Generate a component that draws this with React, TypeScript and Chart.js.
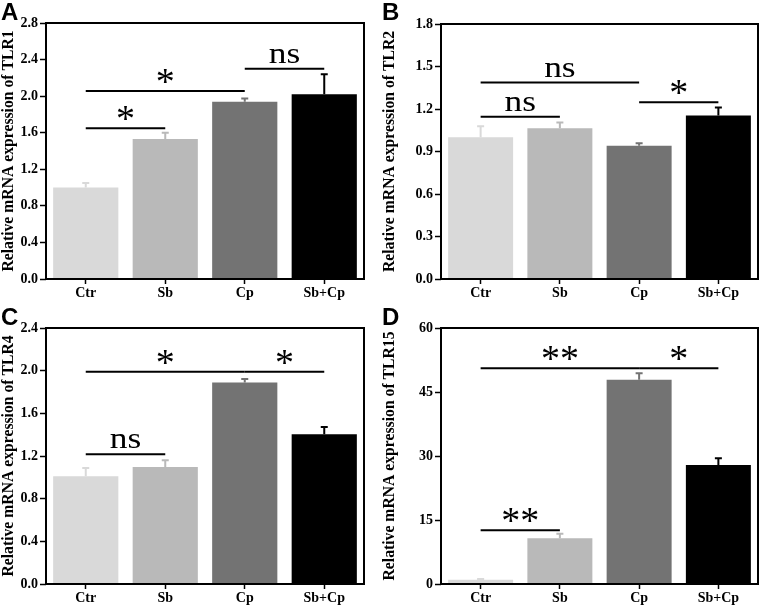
import React, { useEffect, useRef } from 'react';
import { Chart, registerables } from 'chart.js';

Chart.register(...registerables);

// ---------- data ----------
const categories = ['Ctr', 'Sb', 'Cp', 'Sb+Cp'];
const barColors = ['#d9d9d9', '#b9b9b9', '#737373', '#000000'];

const tlr1Values = [1.0, 1.53, 1.94, 2.02];
const tlr1Errors = [0.05, 0.07, 0.035, 0.22];
const tlr1Ticks = [0, 0.4, 0.8, 1.2, 1.6, 2.0, 2.4, 2.8];
const tlr1Brackets = [
  { from: 0, to: 1, y: 1.65, label: '*' },
  { from: 0, to: 2, y: 2.055, label: '*' },
  { from: 2, to: 3, y: 2.3, label: 'ns' },
];

const tlr2Values = [1.0, 1.064, 0.94, 1.155];
const tlr2Errors = [0.078, 0.04, 0.018, 0.056];
const tlr2Ticks = [0, 0.3, 0.6, 0.9, 1.2, 1.5, 1.8];
const tlr2Brackets = [
  { from: 0, to: 1, y: 1.146, label: 'ns' },
  { from: 0, to: 2, y: 1.387, label: 'ns' },
  { from: 2, to: 3, y: 1.247, label: '*' },
];

const tlr4Values = [1.01, 1.097, 1.89, 1.403];
const tlr4Errors = [0.077, 0.063, 0.032, 0.069];
const tlr4Ticks = [0, 0.4, 0.8, 1.2, 1.6, 2.0, 2.4];
const tlr4Brackets = [
  { from: 0, to: 1, y: 1.216, label: 'ns' },
  { from: 0, to: 2, y: 1.99, label: '*' },
  { from: 2, to: 3, y: 1.99, label: '*' },
];

const tlr15Values = [1.0, 10.7, 47.9, 27.9];
const tlr15Errors = [0.15, 1.1, 1.5, 1.6];
const tlr15Ticks = [0, 15, 30, 45, 60];
const tlr15Brackets = [
  { from: 0, to: 1, y: 12.6, label: '**' },
  { from: 0, to: 2, y: 50.55, label: '**' },
  { from: 2, to: 3, y: 50.55, label: '*' },
];

const SERIF = "'Times New Roman', 'Liberation Serif', serif";
const SANS = "Arial, 'Liberation Sans', sans-serif";

type Bracket = { from: number; to: number; y: number; label: string };

type PanelDef = {
  letter: string;
  gene: string;
  values: number[];
  errors: number[];
  ticks: number[];
  decimals: number;
  brackets: Bracket[];
  left: number;
  top: number;
  width: number;
  height: number;
  plotLeft: number;
  plotRight: number;
  plotTop: number;
  plotBottom: number;
};

const panels: PanelDef[] = [
  { letter: 'A', gene: 'TLR1', values: tlr1Values, errors: tlr1Errors, ticks: tlr1Ticks, decimals: 1, brackets: tlr1Brackets,
    left: 0, top: 0, width: 381, height: 305, plotLeft: 46, plotRight: 364, plotTop: 23, plotBottom: 279 },
  { letter: 'B', gene: 'TLR2', values: tlr2Values, errors: tlr2Errors, ticks: tlr2Ticks, decimals: 1, brackets: tlr2Brackets,
    left: 381, top: 0, width: 381, height: 305, plotLeft: 60, plotRight: 377, plotTop: 24, plotBottom: 279 },
  { letter: 'C', gene: 'TLR4', values: tlr4Values, errors: tlr4Errors, ticks: tlr4Ticks, decimals: 1, brackets: tlr4Brackets,
    left: 0, top: 305, width: 381, height: 304, plotLeft: 46, plotRight: 364, plotTop: 23, plotBottom: 279 },
  { letter: 'D', gene: 'TLR15', values: tlr15Values, errors: tlr15Errors, ticks: tlr15Ticks, decimals: 0, brackets: tlr15Brackets,
    left: 381, top: 305, width: 381, height: 304, plotLeft: 60, plotRight: 377, plotTop: 23, plotBottom: 279 },
];

function makeChart(canvas: HTMLCanvasElement, p: PanelDef) {
  const annotPlugin = {
    id: 'annot' + p.letter,
    afterDatasetsDraw(chart: any) {
      const ctx = chart.ctx as CanvasRenderingContext2D;
      const xs = chart.scales.x;
      const ys = chart.scales.y;
      const meta = chart.getDatasetMeta(0);
      ctx.save();
      // error bars
      meta.data.forEach((bar: any, i: number) => {
        const x = bar.x;
        const yTop = ys.getPixelForValue(p.values[i] + p.errors[i]);
        const yBar = ys.getPixelForValue(p.values[i]);
        ctx.strokeStyle = barColors[i];
        ctx.lineWidth = 2;
        ctx.beginPath();
        ctx.moveTo(x, yBar);
        ctx.lineTo(x, yTop);
        ctx.moveTo(x - 3.5, yTop);
        ctx.lineTo(x + 3.5, yTop);
        ctx.stroke();
      });
      // frame
      const a = chart.chartArea;
      ctx.strokeStyle = '#000';
      ctx.lineWidth = 2;
      ctx.strokeRect(a.left, a.top, a.right - a.left, a.bottom - a.top);
      // significance brackets
      p.brackets.forEach((b) => {
        const x1 = xs.getPixelForValue(b.from);
        const x2 = xs.getPixelForValue(b.to);
        const y = ys.getPixelForValue(b.y);
        ctx.strokeStyle = '#000';
        ctx.lineWidth = 2;
        ctx.beginPath();
        ctx.moveTo(x1, y);
        ctx.lineTo(x2, y);
        ctx.stroke();
        const isNs = b.label === 'ns';
        ctx.font = isNs ? `30px ${SERIF}` : `38px ${SERIF}`;
        ctx.fillStyle = '#000';
        ctx.textAlign = 'center';
        ctx.textBaseline = 'alphabetic';
        const m = ctx.measureText(b.label);
        const gap = isNs ? 6 : 7;
        const baseline = y - gap - m.actualBoundingBoxDescent;
        const cx = (x1 + x2) / 2;
        ctx.save();
        ctx.translate(cx, baseline);
        if (isNs) ctx.scale(1.18, 1);
        ctx.fillText(b.label, 0, 0);
        ctx.restore();
      });
      // panel letter
      ctx.font = `bold 24px ${SANS}`;
      ctx.fillStyle = '#000';
      ctx.textAlign = 'left';
      ctx.textBaseline = 'alphabetic';
      ctx.fillText(p.letter, 1, 20);
      ctx.restore();
    },
  };

  return new Chart(canvas, {
    type: 'bar',
    data: {
      labels: categories,
      datasets: [
        {
          data: p.values,
          backgroundColor: barColors,
          borderWidth: 0,
          barPercentage: 0.82,
          categoryPercentage: 1.0,
        },
      ],
    },
    options: {
      responsive: false,
      animation: false,
      devicePixelRatio: 1,
      layout: {
        padding: {
          left: 0,
          top: p.plotTop,
          right: p.width - p.plotRight,
          bottom: 0,
        },
      },
      plugins: {
        legend: { display: false },
        tooltip: { enabled: false },
        title: { display: false },
      },
      scales: {
        x: {
          offset: true,
          grid: {
            offset: false,
            drawOnChartArea: false,
            drawTicks: true,
            tickLength: 5,
            tickColor: '#000',
            tickWidth: 1.5,
            color: '#000',
          },
          border: { display: false },
          ticks: {
            color: '#000',
            padding: 1,
            font: { family: SERIF, size: 14, weight: 'bold' },
          },
          afterFit(scale: any) {
            scale.height = p.height - p.plotBottom;
          },
        },
        y: {
          min: p.ticks[0],
          max: p.ticks[p.ticks.length - 1],
          afterBuildTicks(scale: any) {
            scale.ticks = p.ticks.map((v) => ({ value: v }));
          },
          grid: {
            drawOnChartArea: false,
            drawTicks: true,
            tickLength: 6,
            tickColor: '#000',
            tickWidth: 1.5,
            color: '#000',
          },
          border: { display: false },
          ticks: {
            color: '#000',
            padding: 2,
            font: { family: SERIF, size: 14, weight: 'bold' },
            callback: (v: any) => Number(v).toFixed(p.decimals),
          },
          title: {
            display: true,
            text: 'Relative mRNA expression of ' + p.gene,
            color: '#000',
            padding: { top: 0, bottom: 0 },
            font: { family: SERIF, size: 15.7, weight: 'bold' },
          },
          afterFit(scale: any) {
            scale.width = p.plotLeft;
          },
        },
      },
    },
    plugins: [annotPlugin],
  } as any);
}

function Panel({ p }: { p: PanelDef }) {
  const ref = useRef<HTMLCanvasElement | null>(null);
  useEffect(() => {
    if (!ref.current) return;
    const chart = makeChart(ref.current, p);
    return () => chart.destroy();
  }, [p]);
  return (
    <canvas
      ref={ref}
      width={p.width}
      height={p.height}
      style={{ position: 'absolute', left: p.left, top: p.top, width: p.width, height: p.height, display: 'block' }}
    />
  );
}

export default function App() {
  return (
    <div style={{ position: 'fixed', left: 0, top: 0, width: 762, height: 609, background: '#fff' }}>
      {panels.map((p) => (
        <Panel key={p.letter} p={p} />
      ))}
    </div>
  );
}
